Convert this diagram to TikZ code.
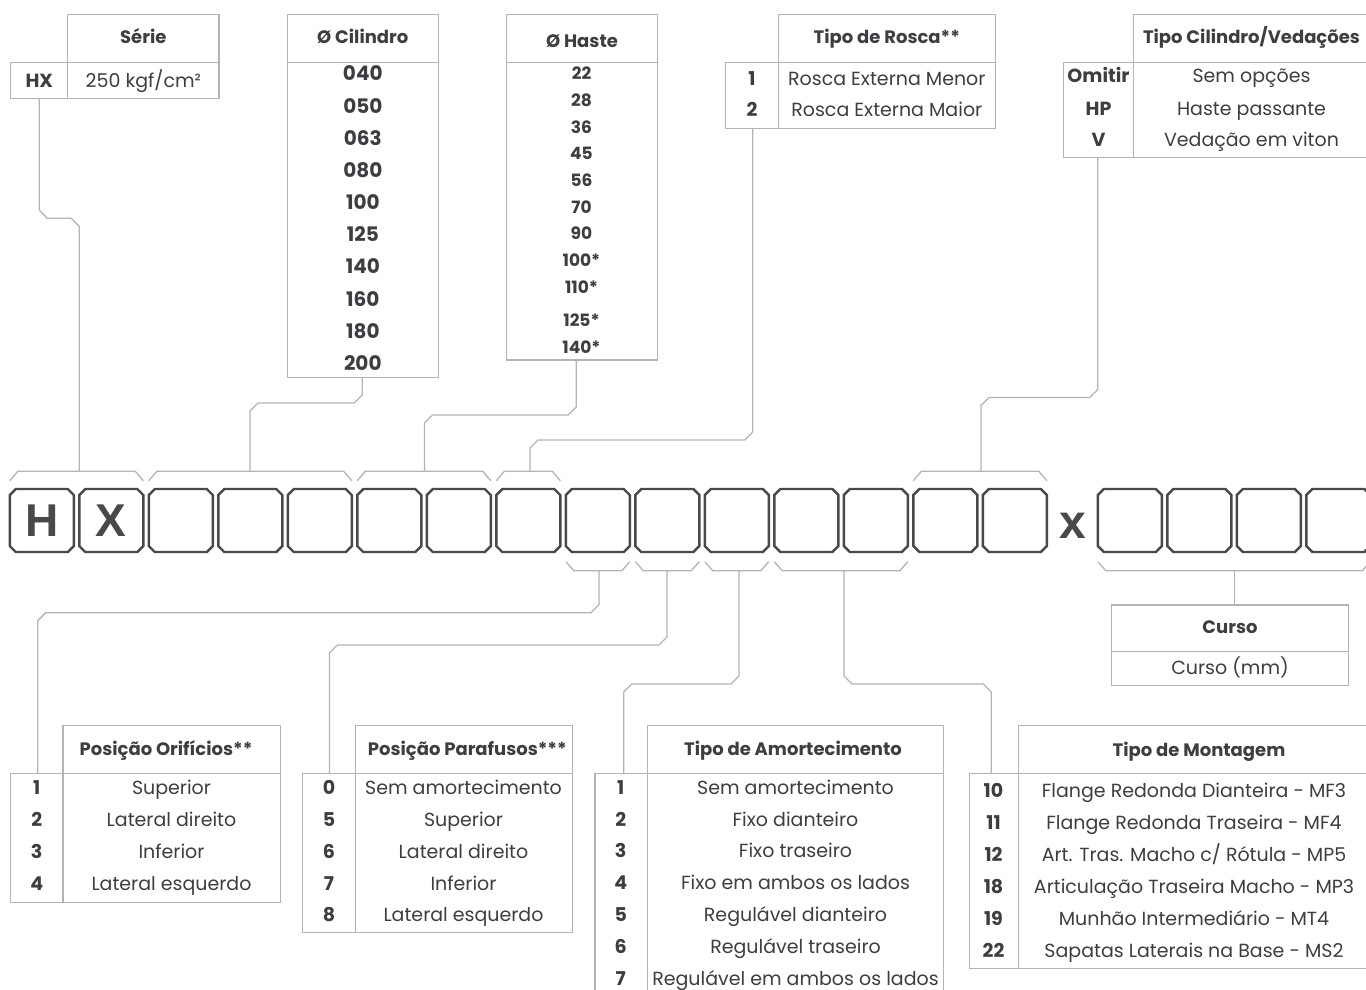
\documentclass[tikz,border=0pt]{standalone}
\usepackage{fontspec}
\setmainfont{Poppins}
\newfontfamily\boxfont{Liberation Sans}
\definecolor{txt}{HTML}{3D3E42}
\definecolor{linec}{HTML}{B4B4B4}
\definecolor{boxc}{HTML}{48494C}
\tikzset{
  tl/.style={draw=linec, line width=1.3pt},
  boxl/.style={draw=boxc, line width=2.4pt, line join=miter},
  hd/.style={font=\bfseries\fontsize{18}{18}\selectfont, text=txt, inner sep=0pt, anchor=base, yshift=-6.3pt},
  val/.style={font=\fontsize{19}{19}\selectfont, text=txt, inner sep=0pt, anchor=base, yshift=-6.6pt},
  num/.style={font=\bfseries\fontsize{19}{19}\selectfont, text=txt, inner sep=0pt, anchor=base, yshift=-6.6pt},
  big/.style={font=\bfseries\fontsize{20}{20}\selectfont, text=txt, inner sep=0pt, anchor=base, yshift=-7pt},
  hnum/.style={font=\bfseries\fontsize{17}{17}\selectfont, text=txt, inner sep=0pt, anchor=base, yshift=-6pt},
  cell/.style={draw=none, inner sep=0pt, outer sep=0pt, minimum width=64pt, minimum height=63pt, text=boxc,
    font=\boxfont\bfseries\fontsize{46}{46}\selectfont},
}
\newcommand\drawcell[1]{%
  \draw[boxl] ([xshift=6pt]#1.north west) -- ([xshift=-6pt]#1.north east) -- ([yshift=-6pt]#1.north east)
    -- ([yshift=6pt]#1.south east) -- ([xshift=-6pt]#1.south east) -- ([xshift=6pt]#1.south west)
    -- ([yshift=6pt]#1.south west) -- ([yshift=-6pt]#1.north west) -- cycle;}
\newcommand\topbr[2]{%
  \draw[tl] ([yshift=8.3pt]#1.north west) -- ([xshift=8pt,yshift=17.7pt]#1.north west)
    -- ([xshift=-8pt,yshift=17.7pt]#2.north east) -- ([yshift=8.3pt]#2.north east);}
\newcommand\botbr[2]{%
  \draw[tl] ([yshift=-9.7pt]#1.south west) -- ([xshift=8pt,yshift=-18.7pt]#1.south west)
    -- ([xshift=-8pt,yshift=-18.7pt]#2.south east) -- ([yshift=-9.7pt]#2.south east);}
\begin{document}
\begin{tikzpicture}[x=1pt,y=-1pt]
\useasboundingbox (0,0) rectangle (1366,990);
\fill[white] (0,0) rectangle (1366,990);

% ---------- Serie
\draw[tl] (67.7,14.7) rectangle (219,62.3);
\draw[tl] (10.7,62.3) rectangle (219,98.7);
\draw[tl] (67.7,62.3) -- (67.7,98.7);
\node[hd] (serieH) at (143.3,37.5) {Série};
\node[num] (serieK) at (39.3,80.5) {HX};
\node[val] (serieV) at (143.3,80.5) {250 kgf/cm²};
\coordinate (serieOut) at (39.3,98.7);

% ---------- Cilindro
\draw[tl] (287.3,14.7) rectangle (438.3,377.7);
\draw[tl] (287.3,62.3) -- (438.3,62.3);
\node[hd] (cilH) at (362.8,37.5) {Ø Cilindro};
\foreach \t [count=\i from 0] in {040,050,063,080,100,125,140,160,180,200}
  \node[big] (cil\i) at (362.8,{74+32.15*\i}) {\t};
\coordinate (cilOut) at (362.3,377.7);

% ---------- Haste
\draw[tl] (506.4,14.7) rectangle (657.5,360);
\draw[tl] (506.4,62.3) -- (657.5,62.3);
\node[hd] (hasH) at (582,41.5) {Ø Haste};
\foreach \t/\y [count=\i] in {22/74,28/100.7,36/127.3,45/153.7,56/180.7,70/207.3,90/233.7,100*/260.7,110*/287.3,125*/320,140*/347}
  \node[hnum] (has\i) at (581.5,\y) {\t};
\coordinate (hasOut) at (576.3,360);

% ---------- Rosca
\draw[tl] (778.2,14.7) rectangle (995.4,62.3);
\draw[tl] (725.7,62.3) rectangle (995.4,128.3);
\draw[tl] (778.2,62.3) -- (778.2,128.3);
\node[hd] (rosH) at (886.8,37.5) {Tipo de Rosca**};
\node[num] (rosN1) at (752,78.5) {1};
\node[val] (rosV1) at (886.8,78.5) {Rosca Externa Menor};
\node[num] (rosN2) at (752,110) {2};
\node[val] (rosV2) at (886.8,110) {Rosca Externa Maior};
\coordinate (rosOut) at (752.7,128.3);

% ---------- Tipo Cilindro / Vedacoes
\draw[tl] (1133.7,14.7) rectangle (1380,62.3);
\draw[tl] (1063.3,62.3) rectangle (1380,157.3);
\draw[tl] (1133.7,62.3) -- (1133.7,157.3);
\node[hd] (tcH) at (1251.5,37.5) {Tipo Cilindro/Vedações};
\foreach \n/\t/\y [count=\i] in {Omitir/Sem opções/76,HP/Haste passante/108.5,V/Vedação em viton/140} {
  \node[num] (tcN\i) at (1098.5,\y) {\n};
  \node[val] (tcV\i) at (1251.5,\y) {\t};
}
\coordinate (tcOut) at (1097.7,157.3);

% ---------- code cells
\foreach \i in {1,...,15} {
  \node[cell] (b\i) at ({41.8+69.5*(\i-1)},520.5) {};
  \drawcell{b\i}
}
\foreach \i in {16,...,19} {
  \node[cell] (b\i) at ({1129.8+69.5*(\i-16)},520.5) {};
  \drawcell{b\i}
}
\node[text=boxc, font=\boxfont\bfseries\fontsize{46}{46}\selectfont, inner sep=0pt] (hL) at (b1.center) {H};
\node[text=boxc, font=\boxfont\bfseries\fontsize{46}{46}\selectfont, inner sep=0pt] (xL) at (b2.center) {X};
\node[text=boxc, font=\boxfont\bfseries\fontsize{48}{48}\selectfont, inner sep=0pt] (times) at (1072.6,525.5) {x};

% ---------- brackets
\topbr{b1}{b2}
\topbr{b3}{b5}
\topbr{b6}{b7}
\topbr{b8}{b8}
\topbr{b14}{b15}
\botbr{b9}{b9}
\botbr{b10}{b10}
\botbr{b11}{b11}
\botbr{b12}{b13}
\botbr{b16}{b19}
\coordinate (tA) at (79.3,471.3);
\coordinate (tB) at (250,471.3);
\coordinate (tC) at (424.5,471.3);
\coordinate (tD) at (530,471.3);
\coordinate (tE) at (981,471.3);
\coordinate (bF) at (599,570.7);
\coordinate (bG) at (667,570.7);
\coordinate (bH) at (739,570.7);
\coordinate (bI) at (844,570.7);
\coordinate (bJ) at (1234.7,570.7);

% ---------- top connectors
\draw[tl] (serieOut) -- (39.3,210) -- (47.3,218.3) -- (71.3,218.3) -- (79.3,226.5) -- (tA);
\draw[tl] (cilOut) -- (362.3,395) -- (354.3,403) -- (258,403) -- (250,411) -- (tB);
\draw[tl] (hasOut) -- (576.3,407) -- (568.3,415) -- (432.5,415) -- (424.5,423) -- (tC);
\draw[tl] (rosOut) -- (752.7,432) -- (744.7,440) -- (538,440) -- (530,448) -- (tD);
\draw[tl] (tcOut) -- (1097.7,389.5) -- (1089.7,397.5) -- (989,397.5) -- (981,405.5) -- (tE);

% ---------- Curso
\draw[tl] (1111.8,605) rectangle (1348.5,651.7);
\draw[tl] (1111.8,651.7) rectangle (1348.5,685.7);
\node[hd] (curH) at (1230,627.5) {Curso};
\node[val] (curV) at (1230,668.3) {Curso (mm)};
\coordinate (curIn) at (1234.7,605);

% ---------- Posicao Orificios
\draw[tl] (63.1,725.7) rectangle (280.5,773.3);
\draw[tl] (10.3,773.3) rectangle (280.5,902.3);
\draw[tl] (63.1,773.3) -- (63.1,902.3);
\node[hd] (oriH) at (166,749.3) {Posição Orifícios**};
\foreach \n/\t [count=\i from 0] in {1/Superior,2/Lateral direito,3/Inferior,4/Lateral esquerdo} {
  \node[num] (oriN\i) at (36.7,{788.3+31.9*\i}) {\n};
  \node[val] (oriV\i) at (171.5,{788.3+31.9*\i}) {\t};
}
\coordinate (oriIn) at (37.7,773.3);

% ---------- Posicao Parafusos
\draw[tl] (355.5,725.7) rectangle (572.5,773.3);
\draw[tl] (302.3,773.3) rectangle (572.5,932.7);
\draw[tl] (355.5,773.3) -- (355.5,932.7);
\node[hd] (parH) at (467.3,749.3) {Posição Parafusos***};
\foreach \n/\t [count=\i from 0] in {0/Sem amortecimento,5/Superior,6/Lateral direito,7/Inferior,8/Lateral esquerdo} {
  \node[num] (parN\i) at (329,{788.3+31.7*\i}) {\n};
  \node[val] (parV\i) at (463.5,{788.3+31.7*\i}) {\t};
}
\coordinate (parIn) at (329.5,773.3);

% ---------- Tipo de Amortecimento
\draw[tl] (647.4,725.7) rectangle (943.5,773.3);
\draw[tl] (595,773.3) rectangle (943.5,1000);
\draw[tl] (647.4,773.3) -- (647.4,1000);
\node[hd] (amoH) at (793,749.3) {Tipo de Amortecimento};
\foreach \n/\t [count=\i from 0] in {1/Sem amortecimento,2/Fixo dianteiro,3/Fixo traseiro,4/Fixo em ambos os lados,5/Regulável dianteiro,6/Regulável traseiro,7/Regulável em ambos os lados} {
  \node[num] (amoN\i) at (620.7,{787.7+31.83*\i}) {\n};
  \node[val] (amoV\i) at (795.5,{787.7+31.83*\i}) {\t};
}
\coordinate (amoIn) at (623.7,773.3);

% ---------- Tipo de Montagem
\draw[tl] (1018.7,725.7) rectangle (1380,773.3);
\draw[tl] (969.2,773.3) rectangle (1380,968.3);
\draw[tl] (1018.7,773.3) -- (1018.7,968.3);
\node[hd] (monH) at (1199,750) {Tipo de Montagem};
\foreach \n/\t [count=\i from 0] in {10/{Flange Redonda Dianteira - MF3},11/{Flange Redonda Traseira - MF4},12/{Art. Tras. Macho c/ Rótula - MP5},18/{Articulação Traseira Macho - MP3},19/{Munhão Intermediário - MT4},22/{Sapatas Laterais na Base - MS2}} {
  \node[num] (monN\i) at (993.5,{791+32*\i}) {\n};
  \node[val] (monV\i) at (1194,{791+32*\i}) {\t};
}
\coordinate (monIn) at (991.3,773.3);

% ---------- bottom connectors
\draw[tl] (bF) -- (599,604.7) -- (591,612.7) -- (45.7,612.7) -- (37.7,620.7) -- (oriIn);
\draw[tl] (bG) -- (667,637) -- (659,645) -- (337.5,645) -- (329.5,653) -- (parIn);
\draw[tl] (bH) -- (739,676) -- (731,684) -- (631.7,684) -- (623.7,692) -- (amoIn);
\draw[tl] (bI) -- (844,676) -- (852,684) -- (983.3,684) -- (991.3,692) -- (monIn);
\draw[tl] (bJ) -- (curIn);
\end{tikzpicture}
\end{document}
